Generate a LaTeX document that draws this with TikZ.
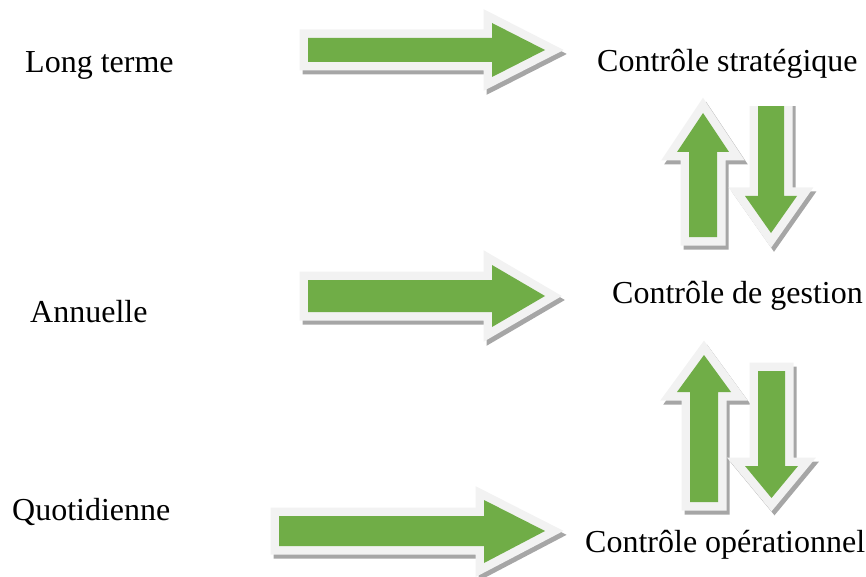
\documentclass[tikz,border=0pt]{standalone}
\usepackage{fontspec}
\setmainfont{Liberation Serif}
\definecolor{arrowgreen}{HTML}{70AD47}
\definecolor{rimgray}{HTML}{F2F2F2}
\definecolor{shadowgray}{HTML}{A6A6A6}
\tikzset{
  label text/.style={font=\fontsize{32}{38}\selectfont, inner sep=0pt, anchor=base west},
  arrow shadow/.style={fill=shadowgray, draw=shadowgray, line width=17pt, line join=miter, shift={(3,4)}},
  arrow rim/.style={fill=rimgray, draw=rimgray, line width=17pt, line join=miter},
  arrow body/.style={fill=arrowgreen},
}
% block arrow: shadow, light rim, green body
\newcommand\blockarrow[1]{%
  \path[arrow shadow] #1 -- cycle;
  \path[arrow rim] #1 -- cycle;
  \path[arrow body] #1 -- cycle;
}
\begin{document}
\begin{tikzpicture}[x=1pt, y=-1pt]
  \useasboundingbox (0,0) rectangle (866,577);

  % left labels
  \node[label text] (lt)  at (25,73)  {Long terme};
  \node[label text] (ann) at (30,322) {Annuelle};
  \node[label text] (quo) at (12,520) {Quotidienne};

  % right labels
  \node[label text] (cs) at (597,72)  {Contrôle stratégique};
  \node[label text] (cg) at (612,303) {Contrôle de gestion};
  \node[label text] (co) at (585,552) {Contrôle opérationnel};

  % horizontal arrows
  \blockarrow{(308,38) -- (492,38) -- (492,23) -- (545,50) -- (492,77) -- (492,62) -- (308,62)}
  \blockarrow{(308,280) -- (492,280) -- (492,265) -- (545,296) -- (492,327) -- (492,312) -- (308,312)}
  \blockarrow{(279,516) -- (484,516) -- (484,500) -- (545,531) -- (484,563) -- (484,546) -- (279,546)}

  % vertical pair between strategic and management control
  \blockarrow{(689,237) -- (689,152) -- (677,152) -- (703,113) -- (729,152) -- (717,152) -- (717,237)}
  \begin{scope}
    \clip (700,107) rectangle (840,270);
    \blockarrow{(758,95) -- (758,196) -- (745,196) -- (771,233) -- (797,196) -- (784,196) -- (784,95)}
  \end{scope}

  % vertical pair between management and operational control
  \blockarrow{(690,502) -- (690,392) -- (677,392) -- (704,355) -- (731,392) -- (718,392) -- (718,502)}
  \blockarrow{(758,371) -- (758,466) -- (745,466) -- (771.5,498) -- (798,466) -- (785,466) -- (785,371)}
\end{tikzpicture}
\end{document}
